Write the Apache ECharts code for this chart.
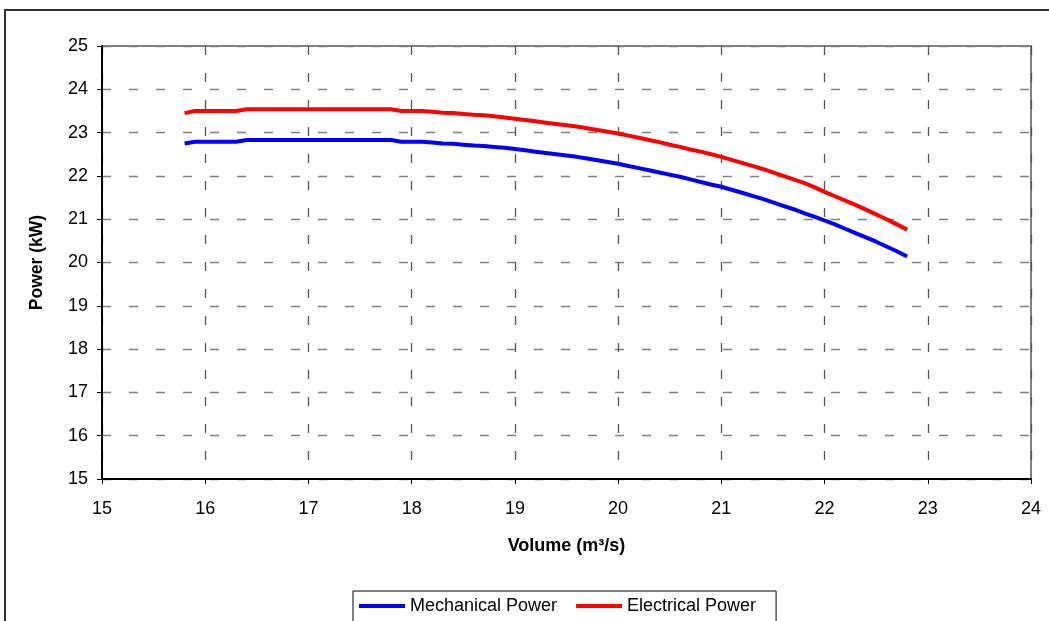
<!DOCTYPE html>
<html>
<head>
<meta charset="utf-8">
<script src="https://cdn.jsdelivr.net/npm/echarts@6/dist/echarts.min.js"></script>
<style>html,body{margin:0;padding:0;background:#fff;}#c{width:1049px;height:621px;}</style>
</head>
<body>
<div id="c"></div>
<script>
var volume = [15.8,15.9,16.0,16.1,16.2,16.3,16.4,16.5,16.6,16.7,16.8,16.9,17.0,17.1,17.2,17.3,17.4,17.5,17.6,17.7,17.8,17.9,18.0,18.1,18.2,18.3,18.4,18.5,18.6,18.7,18.8,18.9,19.0,19.1,19.2,19.3,19.4,19.5,19.6,19.7,19.8,19.9,20.0,20.1,20.2,20.3,20.4,20.5,20.6,20.7,20.8,20.9,21.0,21.1,21.2,21.3,21.4,21.5,21.6,21.7,21.8,21.9,22.0,22.1,22.2,22.3,22.4,22.5,22.6,22.7,22.8];
var mechanicalPower = [22.75,22.79,22.79,22.79,22.79,22.79,22.83,22.83,22.83,22.83,22.83,22.83,22.83,22.83,22.83,22.83,22.83,22.83,22.83,22.83,22.83,22.79,22.79,22.79,22.77,22.75,22.74,22.72,22.70,22.69,22.67,22.65,22.62,22.59,22.56,22.53,22.50,22.47,22.44,22.40,22.36,22.32,22.28,22.23,22.18,22.13,22.08,22.03,21.98,21.92,21.86,21.80,21.75,21.68,21.61,21.54,21.47,21.39,21.31,21.23,21.14,21.06,20.97,20.88,20.78,20.68,20.58,20.48,20.37,20.26,20.14];
var electricalPower = [23.45,23.50,23.50,23.50,23.50,23.50,23.54,23.54,23.54,23.54,23.54,23.54,23.54,23.54,23.54,23.54,23.54,23.54,23.54,23.54,23.54,23.50,23.50,23.50,23.48,23.46,23.45,23.43,23.41,23.40,23.38,23.35,23.32,23.29,23.26,23.23,23.20,23.17,23.14,23.10,23.06,23.02,22.98,22.93,22.88,22.83,22.78,22.72,22.67,22.61,22.56,22.50,22.44,22.37,22.30,22.23,22.16,22.08,22.00,21.92,21.84,21.74,21.63,21.53,21.43,21.33,21.22,21.11,21.00,20.88,20.76];
var seriesNames = ['Mechanical Power', 'Electrical Power'];
var xTitle = 'Volume (m³/s)';
var yTitle = 'Power (kW)';

function pairs(xs, ys){ return xs.map(function(x,i){ return [x, ys[i]]; }); }

var chart = echarts.init(document.getElementById('c'));
var font = 'Liberation Sans, Arial, sans-serif';
chart.setOption({
  animation: false,
  backgroundColor: '#fff',
  graphic: [{
    type: 'rect', silent: true,
    shape: {x: 5, y: 10, width: 1100, height: 700},
    style: {fill: 'none', stroke: '#333', lineWidth: 2}
  }],
  grid: {left: 102, right: 18, top: 46, bottom: 142, show: true, borderColor: '#808080', borderWidth: 2, backgroundColor: 'transparent'},
  legend: {
    left: 353, top: 591,
    data: seriesNames,
    icon: 'rect', itemWidth: 46, itemHeight: 4, itemGap: 19,
    padding: [6, 20, 10, 6],
    borderColor: '#000', borderWidth: 1,
    textStyle: {fontFamily: font, fontSize: 18, color: '#000'}
  },
  xAxis: {
    type: 'value', min: 15, max: 24, interval: 1,
    name: xTitle, nameLocation: 'middle', nameGap: 58,
    nameTextStyle: {fontFamily: font, fontSize: 18, fontWeight: 'bold', color: '#000'},
    axisLine: {show: true, onZero: false, lineStyle: {color: '#000', width: 2}},
    axisTick: {show: true, length: 5, lineStyle: {color: '#000', width: 1}},
    axisLabel: {fontFamily: font, fontSize: 18, color: '#000', margin: 21},
    splitLine: {show: true, lineStyle: {color: '#555', width: 1.3, type: [9, 18]}}
  },
  yAxis: {
    type: 'value', min: 15, max: 25, interval: 1,
    name: yTitle, nameLocation: 'middle', nameGap: 56, nameRotate: 90,
    nameTextStyle: {fontFamily: font, fontSize: 17.5, fontWeight: 'bold', color: '#000'},
    axisLine: {show: true, onZero: false, lineStyle: {color: '#000', width: 2}},
    axisTick: {show: true, length: 5, lineStyle: {color: '#000', width: 1}},
    axisLabel: {fontFamily: font, fontSize: 18, color: '#000', margin: 14},
    splitLine: {show: true, lineStyle: {color: '#808080', width: 1.3, type: [9, 18]}}
  },
  series: [
    {name: seriesNames[0], type: 'line', data: pairs(volume, mechanicalPower), showSymbol: false, lineStyle: {color: '#0000FF', width: 4}, itemStyle: {color: '#0000FF'}},
    {name: seriesNames[1], type: 'line', data: pairs(volume, electricalPower), showSymbol: false, lineStyle: {color: '#FF0000', width: 4}, itemStyle: {color: '#FF0000'}}
  ]
});
</script>
</body>
</html>
